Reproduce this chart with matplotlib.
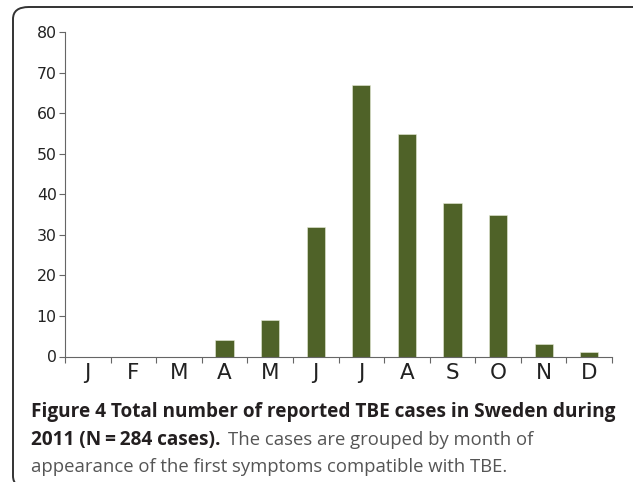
import matplotlib
matplotlib.use("Agg")
import matplotlib.pyplot as plt
from matplotlib.patches import FancyBboxPatch
import numpy as np

months = ["J", "F", "M", "A", "M", "J", "J", "A", "S", "O", "N", "D"]
cases = [0, 0, 0, 4, 9, 32, 67, 55, 38, 35, 3, 1]
yticks = [0, 10, 20, 30, 40, 50, 60, 70, 80]

bar_color = "#4f6228"
axis_color = "#666666"

fig = plt.figure(figsize=(6.33, 4.82), dpi=100)

# rounded frame around the figure (right side and bottom clipped)
frame = FancyBboxPatch((13 / 633, 1 - 488 / 482), 1.2, (488 - 7) / 482,
                       boxstyle="round,pad=0,rounding_size=0.025",
                       transform=fig.transFigure, fill=False,
                       edgecolor="#333333", linewidth=1.4)
fig.patches.append(frame)

ax = fig.add_axes([65 / 633, 1 - 356.5 / 482, (612 - 65) / 633, (356.5 - 32.3) / 482])
x = np.arange(len(months))
ax.bar(x, cases, width=0.4, color=bar_color, edgecolor="#e8ecd8", linewidth=0.4)

ax.set_xlim(-0.5, 11.5)
ax.set_ylim(0, 80)
ax.set_yticks(yticks)
ax.set_xticks(np.arange(-0.5, 12, 1))
ax.set_xticklabels([])
ax.set_xticks(x, minor=True)
ax.set_xticklabels(months, minor=True, fontsize=15.5, color="#222222")
ax.tick_params(axis="x", which="major", length=4, width=0.8, color=axis_color)
ax.tick_params(axis="x", which="minor", length=0, pad=5)
ax.tick_params(axis="y", length=4, width=0.8, color=axis_color,
               labelsize=11.3, labelcolor="#222222", pad=2)

for s in ["top", "right"]:
    ax.spines[s].set_visible(False)
for s in ["left", "bottom"]:
    ax.spines[s].set_color(axis_color)
    ax.spines[s].set_linewidth(0.8)

# caption
cap_font = "Open Sans"
fs_bold = 13.7
fs_norm = 13.35
x0 = 31 / 633
fig.text(x0, 1 - 417 / 482, "Figure 4 Total number of reported TBE cases in Sweden during",
         fontsize=fs_bold, fontweight="bold", family=cap_font, color="#231f20")
t2 = fig.text(x0, 1 - 445 / 482, "2011 (N\u2009=\u2009284 cases).",
              fontsize=fs_bold, fontweight="bold", family=[cap_font, "DejaVu Sans"], color="#231f20")
fig.canvas.draw()
bb = t2.get_window_extent()
fig.text(bb.x1 / fig.bbox.width + 8 / 633, 1 - 445 / 482, "The cases are grouped by month of",
         fontsize=fs_norm, family=cap_font, color="#555555")
fig.text(x0, 1 - 472 / 482, "appearance of the first symptoms compatible with TBE.",
         fontsize=fs_norm, family=cap_font, color="#555555")

fig.savefig("out.png", dpi=100)
